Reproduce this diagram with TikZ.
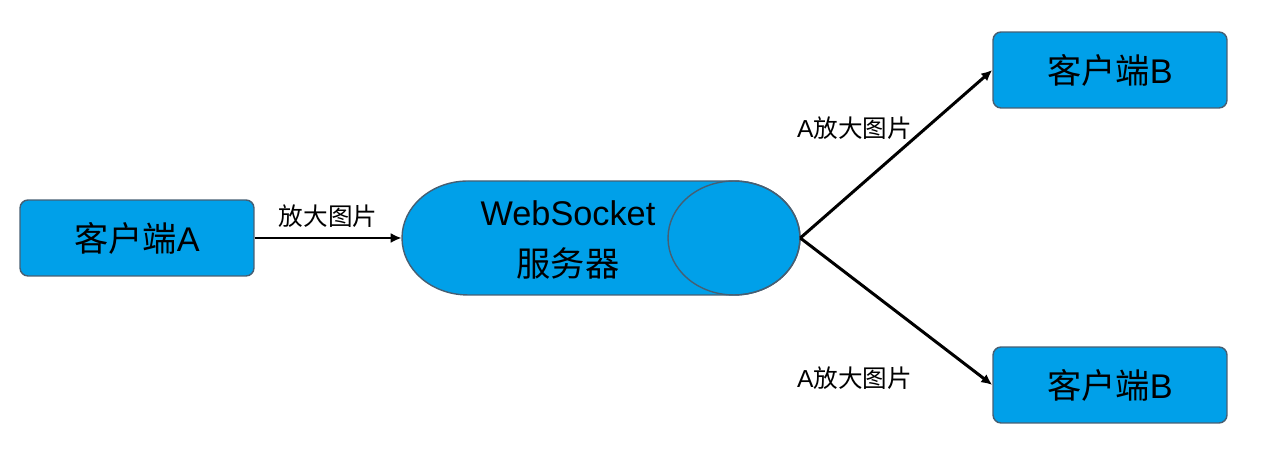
\documentclass[tikz,border=0pt]{standalone}
\usepackage{fontspec}
\usepackage{tikz}
\usetikzlibrary{arrows.meta}
\setmainfont{Liberation Sans}
\newfontfamily\cjk{Noto Sans CJK SC}
\definecolor{boxblue}{RGB}{0,160,233}
\definecolor{boxline}{RGB}{70,95,115}

\begin{document}
\begin{tikzpicture}[x=0.02cm, y=-0.02cm,
    client/.style={draw=boxline, line width=0.8pt, fill=boxblue, rounded corners=0.16cm, minimum width=4.68cm, minimum height=1.52cm, font=\fontsize{19.5pt}{22pt}\selectfont},
    msg/.style={font=\fontsize{14pt}{16pt}\selectfont},
    link/.style={line width=1.7pt, -{Latex[length=2.2mm, width=2mm]}}]
  \useasboundingbox (0, 0) rectangle (1275, 455);
  \node[client] (clientA) at (137, 238) {{\cjk 客户端}A};
  \node[client] (clientB1) at (1110, 70) {{\cjk 客户端}B};
  \node[client] (clientB2) at (1110, 385) {{\cjk 客户端}B};
  \draw[boxline, line width=0.8pt, fill=boxblue] (468, 181) arc[start angle=90, end angle=270, x radius=1.32cm, y radius=1.14cm] -- (734, 295) arc[start angle=-90, end angle=90, x radius=1.32cm, y radius=1.14cm] -- cycle;
  \draw[boxline, line width=0.8pt] (734, 238) ellipse[x radius=1.32cm, y radius=1.14cm];
  \node[minimum width=7.96cm, minimum height=2.28cm, inner sep=0pt] (server) at (601, 238) {};
  \node[align=center, font=\fontsize{19.5pt}{29pt}\selectfont] (serverlabel) at (568, 240) {WebSocket\\{\cjk 服务器}};
  \draw[link] (clientA) -- (server.west) node[midway, above, msg, yshift=2pt]{\cjk 放大图片};
  \draw[link] (server.east) -- (clientB1.west) node[pos=0.62, left, msg, yshift=3pt]{A{\cjk 放大图片}};
  \draw[link] (server.east) -- (clientB2.west) node[pos=0.62, below left, msg, yshift=-17pt]{A{\cjk 放大图片}};
\end{tikzpicture}
\end{document}
